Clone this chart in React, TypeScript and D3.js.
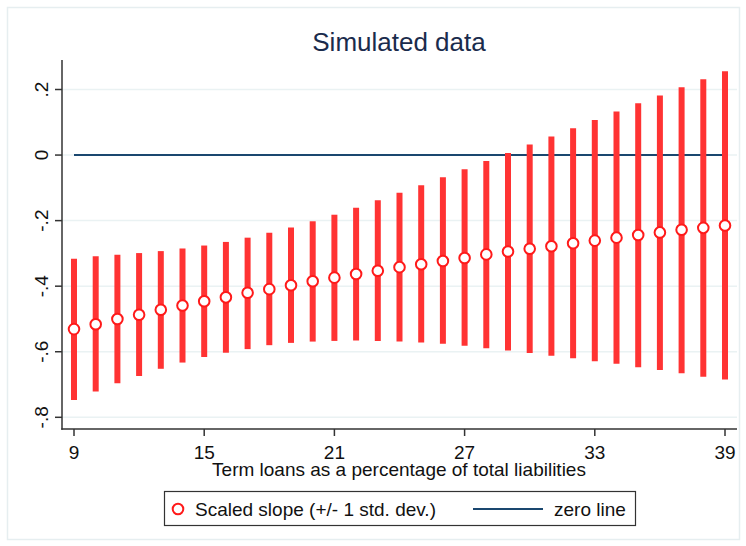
import React from 'react';
import { scaleLinear, format, line } from 'd3';

const width = 746;
const height = 546;

// term loans share (x) and the scaled slope with +/- 1 std. dev. band
const xValues = [9, 10, 11, 12, 13, 14, 15, 16, 17, 18, 19, 20, 21, 22, 23, 24, 25, 26, 27, 28, 29, 30, 31, 32, 33, 34, 35, 36, 37, 38, 39];
const slope = [-0.531, -0.516, -0.5, -0.487, -0.472, -0.459, -0.446, -0.434, -0.42, -0.409, -0.397, -0.385, -0.374, -0.363, -0.353, -0.342, -0.333, -0.323, -0.314, -0.303, -0.294, -0.286, -0.278, -0.269, -0.261, -0.252, -0.244, -0.236, -0.228, -0.222, -0.215];
const upper = [-0.316, -0.309, -0.304, -0.299, -0.293, -0.285, -0.276, -0.265, -0.252, -0.237, -0.221, -0.202, -0.182, -0.161, -0.138, -0.115, -0.092, -0.068, -0.043, -0.018, 0.006, 0.032, 0.057, 0.082, 0.107, 0.133, 0.158, 0.182, 0.207, 0.231, 0.256];
const lower = [-0.747, -0.721, -0.696, -0.674, -0.652, -0.633, -0.616, -0.603, -0.592, -0.58, -0.573, -0.569, -0.567, -0.566, -0.567, -0.569, -0.572, -0.576, -0.582, -0.589, -0.596, -0.604, -0.612, -0.62, -0.629, -0.637, -0.647, -0.656, -0.666, -0.676, -0.685];

const xTicks = [9, 15, 21, 27, 33, 39];
const yTicks = [-0.8, -0.6, -0.4, -0.2, 0, 0.2];
const zeroLine = [{ x: 9, y: 0 }, { x: 39, y: 0 }];

const font = '"Liberation Sans", Arial, sans-serif';
const red = '#ff3333';
const navy = '#1a476f';
const axisColor = '#333333';

// Stata style labels: .2, 0, -.2 (plain hyphen, no leading zero)
const fmt = format('.1f');
const stataLabel = (v: number) => {
  if (Math.abs(v) < 1e-9) return '0';
  const s = fmt(Math.abs(v)).replace(/^0\./, '.');
  return (v < 0 ? '-' : '') + s;
};

export default function App() {
  const x = scaleLinear().domain([9, 39]).range([74, 725]);
  const y = scaleLinear().domain([-0.8, 0.2]).range([417.3, 89.5]);

  const axisLeft = 62;
  const axisTop = 60;
  const axisBottom = 429;
  const axisRight = 737;

  const zeroPath = line<{ x: number; y: number }>()
    .x(d => x(d.x))
    .y(d => y(d.y))(zeroLine);

  return (
    <svg width={width} height={height} style={{ position: 'absolute', left: 0, top: 0 }} fontFamily={font}>
      <rect x={0} y={0} width={width} height={height} fill="#ffffff" />
      <rect x={7.5} y={7.5} width={732} height={532} fill="none" stroke="#e6eef0" strokeWidth={1.5} />

      <text x={399} y={51} textAnchor="middle" fontSize={26} fill="#1a2b4c">Simulated data</text>

      {/* gridlines */}
      {yTicks.map(t => (
        <line key={'g' + t} x1={axisLeft} x2={axisRight} y1={y(t)} y2={y(t)} stroke="#eaf2f3" strokeWidth={1.5} />
      ))}

      {/* zero line */}
      <path d={zeroPath ?? ''} fill="none" stroke={navy} strokeWidth={2} />

      {/* bars */}
      {xValues.map((xv, i) => (
        <line key={'b' + xv} x1={x(xv)} x2={x(xv)} y1={y(lower[i])} y2={y(upper[i])} stroke={red} strokeWidth={6} />
      ))}

      {/* point estimates */}
      {xValues.map((xv, i) => (
        <circle key={'c' + xv} cx={x(xv)} cy={y(slope[i])} r={5.3} fill="#ffffff" stroke="#ff1a1a" strokeWidth={2} />
      ))}

      {/* y axis */}
      <line x1={axisLeft} x2={axisLeft} y1={axisTop} y2={axisBottom + 0.75} stroke={axisColor} strokeWidth={1.5} />
      {yTicks.map(t => (
        <g key={'yt' + t}>
          <line x1={axisLeft - 7} x2={axisLeft} y1={y(t)} y2={y(t)} stroke={axisColor} strokeWidth={1.5} />
          <text
            transform={`translate(${axisLeft - 14},${y(t)}) rotate(-90)`}
            textAnchor="middle"
            fontSize={19}
            fill="#111111"
          >
            {stataLabel(t)}
          </text>
        </g>
      ))}

      {/* x axis */}
      <line x1={axisLeft - 0.75} x2={axisRight} y1={axisBottom} y2={axisBottom} stroke={axisColor} strokeWidth={1.5} />
      {xTicks.map(t => (
        <g key={'xt' + t}>
          <line x1={x(t)} x2={x(t)} y1={axisBottom} y2={axisBottom + 7} stroke={axisColor} strokeWidth={1.5} />
          <text x={x(t)} y={459} textAnchor="middle" fontSize={19} fill="#111111">{t}</text>
        </g>
      ))}
      <text x={399} y={476} textAnchor="middle" fontSize={19} fill="#111111">
        Term loans as a percentage of total liabilities
      </text>

      {/* legend */}
      <rect x={164.5} y={491.5} width={471} height={34} fill="#ffffff" stroke={axisColor} strokeWidth={1.2} />
      <circle cx={178} cy={509} r={5.3} fill="#ffffff" stroke="#ff1a1a" strokeWidth={2} />
      <text x={195} y={515.5} fontSize={19} fill="#111111">Scaled slope (+/- 1 std. dev.)</text>
      <line x1={473} x2={543} y1={509} y2={509} stroke={navy} strokeWidth={2} />
      <text x={554} y={515.5} fontSize={19} fill="#111111">zero line</text>
    </svg>
  );
}
